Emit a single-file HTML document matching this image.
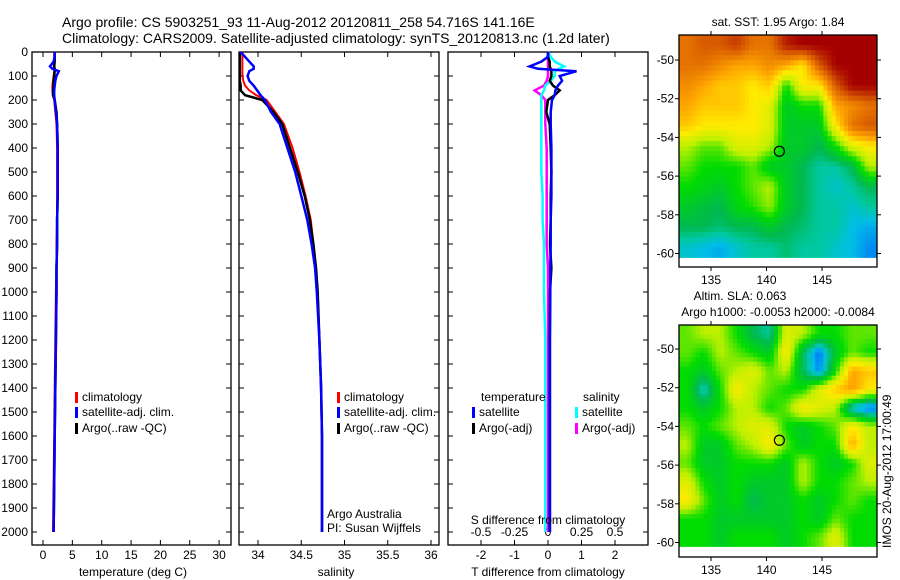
<!DOCTYPE html>
<html><head><meta charset="utf-8"><style>
html,body{margin:0;padding:0;background:#fff;}
svg{display:block;font-family:"Liberation Sans",sans-serif;}
</style></head><body>
<svg id="fig" width="900" height="580" viewBox="0 0 900 580">
<text x="62" y="27" font-size="14">Argo profile: CS 5903251_93 11-Aug-2012 20120811_258 54.716S 141.16E</text>
<text x="62" y="43" font-size="14">Climatology: CARS2009. Satellite-adjusted climatology: synTS_20120813.nc (1.2d later)</text>
</svg>
<script>
// ---- data ----
const depths = [0,20,40,60,70,80,100,120,140,160,180,200,250,300,400,500,600,700,800,900,1000,1200,1400,1600,1800,2000];
const tempArgo = [2.0,2.0,2.0,1.9,2.0,2.0,1.9,1.8,1.8,1.7,1.7,2.0,2.3,2.4,2.5,2.5,2.5,2.4,2.4,2.3,2.3,2.2,2.1,2.0,1.9,1.8];
const tempClim = [1.9,1.9,1.9,1.9,1.9,1.9,1.8,1.7,1.6,1.6,1.7,1.9,2.1,2.3,2.4,2.4,2.4,2.4,2.3,2.3,2.2,2.1,2.0,1.9,1.8,1.7];
const tempSat = [2.0,2.0,1.8,1.2,1.6,2.7,2.3,2.1,2.0,1.9,1.9,2.0,2.2,2.4,2.5,2.5,2.5,2.4,2.4,2.3,2.3,2.2,2.1,2.0,1.9,1.8];
const salArgo = [33.79,33.79,33.79,33.79,33.79,33.79,33.79,33.79,33.8,33.8,33.85,34.05,34.18,34.28,34.37,34.46,34.54,34.6,34.64,34.67,34.69,34.71,34.73,34.74,34.74,34.74];
const salClim = [33.82,33.82,33.82,33.82,33.82,33.82,33.82,33.83,33.85,33.9,33.98,34.1,34.2,34.3,34.4,34.48,34.55,34.61,34.64,34.67,34.69,34.71,34.73,34.74,34.74,34.74];
const salSat = [33.8,33.85,33.9,33.95,33.95,33.9,33.88,33.9,33.95,33.99,34.03,34.08,34.15,34.25,34.34,34.43,34.5,34.57,34.62,34.66,34.68,34.71,34.73,34.74,34.74,34.74];
const tDiffSat = [0.0,0.0,-0.2,-0.55,-0.3,0.85,0.35,0.42,0.3,0.22,0.2,0.12,0.08,0.08,0.1,0.1,0.1,0.08,0.08,0.07,0.07,0.06,0.06,0.06,0.06,0.06];
const tDiffArgo = [0.0,0.0,0.05,0.05,0.08,0.1,0.1,0.05,0.15,0.35,0.2,0.0,-0.05,0.05,0.08,0.1,0.08,0.08,0.06,0.1,0.06,0.05,0.05,0.05,0.05,0.05];
const sDiffSat = [0.0,0.02,0.05,0.12,0.08,0.05,0.05,0.02,-0.02,-0.03,-0.05,-0.05,-0.05,-0.05,-0.05,-0.05,-0.04,-0.04,-0.03,-0.03,-0.03,-0.02,-0.02,-0.02,-0.02,-0.02];
const sDiffArgo = [0.0,0.0,0.0,0.0,0.0,0.0,0.0,-0.01,-0.03,-0.1,-0.05,-0.02,-0.02,-0.02,-0.01,-0.01,-0.01,-0.01,-0.01,0.0,0.0,0.0,0.0,0.0,0.0,0.0];
const depthTicks = [0,100,200,300,400,500,600,700,800,900,1000,1100,1200,1300,1400,1500,1600,1700,1800,1900,2000];
const tempTicks = [0,5,10,15,20,25,30];
const salTicks = [34,34.5,35,35.5,36];
const tdTicks = [-2,-1,0,1,2];
const sdTicks = [-0.5,-0.25,0,0.25,0.5];
const lonTicks = [135,140,145];
const latTicks = [-50,-52,-54,-56,-58,-60];
const sstGrid = [
[0.8,0.85,0.85,0.9,0.8,0.8,0.95,1,1,1,1,1],
[0.8,0.8,0.75,0.7,0.7,0.75,0.7,0.6,0.85,1,1,1],
[0.75,0.7,0.65,0.65,0.6,0.65,0.4,0.6,0.6,0.85,1,1],
[0.7,0.65,0.65,0.65,0.6,0.55,0.35,0.4,0.4,0.7,0.75,0.8],
[0.65,0.6,0.6,0.6,0.6,0.55,0.35,0.35,0.35,0.6,0.8,0.85],
[0.5,0.45,0.45,0.55,0.55,0.5,0.35,0.35,0.3,0.4,0.55,0.6],
[0.45,0.4,0.4,0.4,0.45,0.35,0.35,0.3,0.25,0.25,0.3,0.5],
[0.4,0.38,0.35,0.4,0.45,0.5,0.35,0.3,0.25,0.22,0.25,0.3],
[0.35,0.32,0.3,0.38,0.42,0.48,0.35,0.3,0.25,0.25,0.22,0.25],
[0.3,0.3,0.28,0.3,0.3,0.35,0.3,0.28,0.25,0.25,0.2,0.18],
[0.22,0.2,0.18,0.22,0.25,0.25,0.28,0.25,0.25,0.22,0.2,0.15]];
const slaGrid = [
[0.45,0.5,0.5,0.4,0.3,0.25,0.55,0.5,0.4,0.4,0.45,0.45],
[0.45,0.4,0.5,0.45,0.4,0.35,0.6,0.3,0.12,0.35,0.45,0.4],
[0.4,0.35,0.45,0.5,0.55,0.45,0.5,0.3,0.15,0.4,0.7,0.65],
[0.4,0.22,0.4,0.6,0.5,0.45,0.4,0.4,0.55,0.65,0.72,0.6],
[0.4,0.35,0.4,0.5,0.5,0.4,0.45,0.6,0.55,0.5,0.2,0.12],
[0.45,0.4,0.45,0.5,0.55,0.55,0.4,0.35,0.4,0.45,0.6,0.5],
[0.5,0.35,0.35,0.45,0.5,0.6,0.45,0.35,0.4,0.4,0.7,0.5],
[0.45,0.35,0.35,0.4,0.4,0.4,0.35,0.5,0.4,0.35,0.4,0.55],
[0.55,0.4,0.35,0.4,0.35,0.35,0.35,0.5,0.4,0.4,0.45,0.5],
[0.6,0.45,0.35,0.4,0.3,0.35,0.35,0.4,0.35,0.4,0.45,0.4],
[0.4,0.4,0.35,0.35,0.35,0.35,0.35,0.4,0.35,0.45,0.4,0.4],
[0.4,0.4,0.35,0.4,0.4,0.4,0.35,0.4,0.45,0.55,0.4,0.4]];
const argoPos = [141.16,-54.716];

// ---- helpers ----
const NS="http://www.w3.org/2000/svg";
const svg=document.getElementById('fig');
function mk(tag,attrs,parent){const e=document.createElementNS(NS,tag);for(const k in attrs)e.setAttribute(k,attrs[k]);(parent||svg).appendChild(e);return e;}
function txt(x,y,s,size,anchor,parent){const t=mk('text',{x:x,y:y,'font-size':size||12,'text-anchor':anchor||'start'},parent);t.textContent=s;return t;}
const yD = d => 52 + d*0.24;
const PB = 545;

function panel(name,x0,x1){
  const g=mk('g',{});
  
  
  const r=mk('rect',{x:x0,y:52,width:x1-x0,height:PB-52,fill:'none',stroke:'#000','stroke-width':1.3},g);
  
  
  depthTicks.forEach(d=>{
    mk('line',{x1:x0,x2:x0+5,y1:yD(d),y2:yD(d),stroke:'#000'},g);
    mk('line',{x1:x1-5,x2:x1,y1:yD(d),y2:yD(d),stroke:'#000'},g);
  });
  return g;
}
function xticks(g,ticks,fx,labelY,fmt){
  ticks.forEach(v=>{const x=fx(v);
    mk('line',{x1:x,x2:x,y1:52,y2:57,stroke:'#000'},g);
    mk('line',{x1:x,x2:x,y1:PB-5,y2:PB,stroke:'#000'},g);
    const t=txt(x,labelY,fmt?fmt(v):String(v),12,'middle',g);
    
    
  });
}
function line(g,vals,fx,color,name,w){
  const pts=vals.map((v,i)=>fx(v).toFixed(1)+','+yD(depths[i]).toFixed(1)).join(' ');
  const p=mk('polyline',{points:pts,fill:'none',stroke:color,'stroke-width':w||2.5,'stroke-linejoin':'miter'},g);
  
  
}
function legend(g,x,y,color,label){
  mk('rect',{x:x,y:y-9,width:3,height:11,fill:color},g);
  const t=txt(x+7,y,label,12,'start',g);
  
  
}

// ---- panel 1: temperature ----
const g1=panel('temperature-panel',32,231);
depthTicks.forEach(d=>{const t=txt(28,yD(d)+4,String(d),12,'end',g1);
  
  });
const fT=v=>43+v*5.87;
xticks(g1,tempTicks,fT,559);
line(g1,tempClim,fT,'#f00','temp-climatology-line',2);
line(g1,tempArgo,fT,'#000','temp-argo-line',2.5);
line(g1,tempSat,fT,'#00f','temp-satellite-line',2.5);
legend(g1,75,401,'#f00','climatology');
legend(g1,75,416,'#00f','satellite-adj. clim.');
legend(g1,75,432,'#000','Argo(..raw -QC)');
const xl1=txt(133,576,'temperature (deg C)',12,'middle',g1);



// ---- panel 2: salinity ----
const g2=panel('salinity-panel',239,439);
const fS=v=>258+(v-34)*86.5;
xticks(g2,salTicks,fS,559);
line(g2,salClim,fS,'#f00','sal-climatology-line',2);
line(g2,salArgo,fS,'#000','sal-argo-line',2.5);
line(g2,salSat,fS,'#00f','sal-satellite-line',2.5);
legend(g2,337,401,'#f00','climatology');
legend(g2,337,416,'#00f','satellite-adj. clim.');
legend(g2,337,432,'#000','Argo(..raw -QC)');
txt(327,518,'Argo Australia',12,'start',g2);
txt(327,532,'PI: Susan Wijffels',12,'start',g2);
const xl2=txt(336,576,'salinity',12,'middle',g2);



// ---- panel 3: differences ----
const g3=panel('difference-panel',448,648);
const fTd=v=>548+v*33.5;
const fSd=v=>548+v*134;
xticks(g3,tdTicks,fTd,559);
sdTicks.forEach(v=>{const t=txt(fSd(v),536,String(v),12,'middle',g3);
  
  });
line(g3,sDiffArgo,fSd,'#f0f','s-diff-argo-line',2.5);
line(g3,sDiffSat,fSd,'#0ff','s-diff-satellite-line',2.5);
line(g3,tDiffArgo,fTd,'#000','t-diff-argo-line',2.5);
line(g3,tDiffSat,fTd,'#00f','t-diff-satellite-line',2.5);
txt(481,401,'temperature',12,'start',g3);
txt(583,401,'salinity',12,'start',g3);
legend(g3,472,416,'#00f','satellite');
legend(g3,472,432,'#000','Argo(-adj)');
legend(g3,575,416,'#0ff','satellite');
legend(g3,575,432,'#f0f','Argo(-adj)');
txt(548,524,'S difference from climatology',12,'middle',g3);
const xl3=txt(548,576,'T difference from climatology',12,'middle',g3);



// ---- maps ----
const stops=[[0.1,[0,90,255]],[0.2,[0,190,230]],[0.25,[0,200,160]],[0.3,[0,185,80]],[0.4,[0,220,0]],[0.5,[190,240,0]],[0.6,[255,235,0]],[0.7,[255,165,0]],[0.85,[215,90,0]],[1,[165,0,0]]];
function cmap(v){
  if(v<=stops[0][0])return 'rgb('+stops[0][1]+')';
  for(let i=1;i<stops.length;i++){if(v<=stops[i][0]){const a=stops[i-1],b=stops[i],f=(v-a[0])/(b[0]-a[0]);
    return 'rgb('+a[1].map((c,k)=>Math.round(c+(b[1][k]-c)*f)).join(',')+')';}}
  return 'rgb('+stops[stops.length-1][1]+')';
}
function sample(grid,r,c){
  const R=grid.length-1,C=grid[0].length-1;
  r=Math.max(0,Math.min(R,r));c=Math.max(0,Math.min(C,c));
  const r0=Math.floor(r),c0=Math.floor(c),r1=Math.min(R,r0+1),c1=Math.min(C,c0+1);
  const fr=r-r0,fc=c-c0;
  return grid[r0][c0]*(1-fr)*(1-fc)+grid[r0][c1]*(1-fr)*fc+grid[r1][c0]*fr*(1-fc)+grid[r1][c1]*fr*fc;
}
function map(name,top,bottom,lat50y,grid,titles){
  const g=mk('g',{});
  
  
  const x0=679,x1=877;
  const fx=lon=>711+(lon-135)*11.1;
  const fy=lat=>lat50y+(-50-lat)*19.35;
  const dataTop=top, dataBot=fy(-60.2);
  const rows=grid.length, cols=grid[0].length, S=4;
  const cw=(x1-x0)/(cols*S), rh=(dataBot-dataTop)/(rows*S);
  for(let r=0;r<rows*S;r++)for(let c=0;c<cols*S;c++){
    const v=sample(grid,(r+0.5)/S-0.5,(c+0.5)/S-0.5);
    const cell=mk('rect',{x:(x0+c*cw).toFixed(2),y:(dataTop+r*rh).toFixed(2),width:(cw+0.5).toFixed(2),height:(rh+0.5).toFixed(2),fill:cmap(v)},g);
    
    
  }
  mk('rect',{x:x0,y:top,width:x1-x0,height:bottom-top,fill:'none',stroke:'#000','stroke-width':1.3},g);
  lonTicks.forEach(l=>{const x=fx(l);
    mk('line',{x1:x,x2:x,y1:top-4,y2:top,stroke:'#000'},g);
    mk('line',{x1:x,x2:x,y1:bottom,y2:bottom+4,stroke:'#000'},g);
    txt(x,bottom+17,String(l),12,'middle',g);});
  latTicks.forEach(l=>{const y=fy(l);
    mk('line',{x1:x0-4,x2:x0,y1:y,y2:y,stroke:'#000'},g);
    mk('line',{x1:x1,x2:x1+4,y1:y,y2:y,stroke:'#000'},g);
    txt(x0-5,y+4,String(l),12,'end',g);});
  const m=mk('circle',{cx:fx(argoPos[0]),cy:fy(argoPos[1]),r:5,fill:'none',stroke:'#000','stroke-width':1.2},g);
  
  
  titles.forEach(t=>{const e=txt(t[1],t[2],t[0],12,'middle',g);
    
    });
}
map('sst-map',35,267,60,sstGrid,[['sat. SST: 1.95 Argo: 1.84',778,26]]);
map('sla-map',325,557,349,slaGrid,[['Altim. SLA: 0.063',740,300],['Argo h1000: -0.0053 h2000: -0.0084',778,316]]);

const stamp=txt(0,0,'IMOS 20-Aug-2012 17:00:49',12,'start');
stamp.setAttribute('transform','translate(891,548) rotate(-90)');


</script>
</body></html>
